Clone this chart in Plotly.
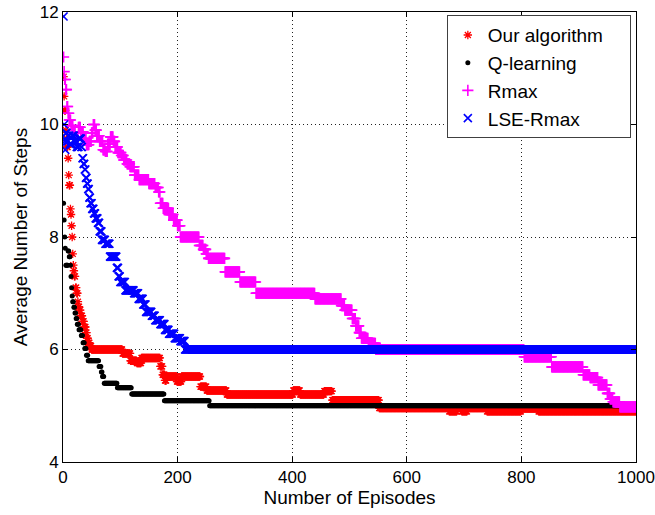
import numpy as np
import plotly.graph_objects as go

N_EPISODES = 1000

# Step data: episode where a level starts, and its value
ours_start = [1, 2, 3, 5, 6, 7, 9, 10, 11, 13, 14, 15, 16, 17, 18, 19, 20, 22, 24, 26, 27, 29, 31, 34, 37, 40, 42, 44, 47, 50,
              104, 118, 129, 137, 170, 174, 178, 181, 199, 207, 240, 251, 286, 402, 414, 456, 470, 552, 674, 688, 696, 706, 740, 800, 830]
ours_val = [10.85, 10.5, 10.25, 9.9, 9.75, 9.6, 9.4, 9.1, 8.92, 8.5, 8.4, 8.2, 8.0, 7.7, 7.5, 7.4, 7.3, 7.1, 7.0, 6.85, 6.76, 6.7, 6.6, 6.5, 6.4, 6.3, 6.2, 6.12, 6.06, 6.0,
            5.93, 5.8, 5.76, 5.85, 5.7, 5.55, 5.45, 5.52, 5.43, 5.52, 5.34, 5.27, 5.2, 5.27, 5.2, 5.26, 5.1, 4.96, 4.9, 4.96, 4.9, 4.96, 4.9, 4.95, 4.9]

q_start = [1, 2, 3, 4, 5, 9, 11, 13, 14, 15, 16, 17, 19, 21, 23, 25, 28, 32, 35, 38, 41, 44, 63, 67, 69, 72, 95, 120, 177, 256]
q_val = [8.6, 8.3, 8.0, 7.8, 7.5, 7.75, 7.65, 7.5, 7.3, 7.1, 6.95, 6.85, 6.75, 6.65, 6.55, 6.45, 6.35, 6.25, 6.12, 6.02, 5.9, 5.8, 5.7, 5.6, 5.52, 5.4, 5.32, 5.21, 5.09, 5.0]

rmax_start = [1, 2, 3, 5, 7, 9, 11, 14, 18, 22, 27, 31, 36, 41, 46, 50, 53, 56, 59, 64, 70, 74, 78, 83, 88, 91, 96, 102, 106, 112,
              117, 125, 133, 150, 161, 167, 170, 175, 185, 193, 200, 205, 238, 245, 250, 254, 283, 309, 337, 440, 486, 492, 505, 511,
              517, 521, 533, 546, 805, 853, 908, 920, 934, 950, 955, 960, 972]
rmax_val = [11.2, 10.94, 10.8, 10.62, 10.32, 10.2, 10.08, 9.98, 9.85, 9.75, 9.95, 9.87, 9.75, 9.64, 9.7, 9.85, 10.0, 9.9, 9.8, 9.7, 9.55, 9.52, 9.65, 9.78, 9.7, 9.6, 9.5, 9.45, 9.37, 9.3,
            9.25, 9.1, 9.02, 8.95, 8.88, 8.8, 8.6, 8.51, 8.4, 8.3, 8.2, 8.0, 7.85, 7.78, 7.7, 7.62, 7.38, 7.2, 7.0, 6.9, 6.78, 6.7, 6.55, 6.42,
            6.3, 6.2, 6.11, 6.0, 5.87, 5.69, 5.55, 5.5, 5.37, 5.22, 5.12, 5.07, 4.98]

lse_start = [1, 2, 3, 4, 5, 7, 9, 12, 16, 20, 24, 28, 32, 34, 36, 38, 40, 42, 44, 46, 48, 51, 54, 57, 61, 64, 68, 74, 82, 94,
             97, 100, 109, 124, 132, 140, 145, 155, 161, 170, 178, 185, 195, 205, 213]
lse_val = [11.92, 10.0, 9.7, 9.55, 9.85, 9.7, 9.8, 9.65, 9.8, 9.7, 9.6, 9.75, 9.6, 9.4, 9.3, 9.2, 9.05, 8.95, 8.85, 8.7, 8.6, 8.5, 8.42, 8.33, 8.25, 8.1, 7.95, 7.88, 7.65, 7.45,
           7.3, 7.2, 7.05, 7.0, 6.9, 6.8, 6.67, 6.6, 6.52, 6.45, 6.35, 6.28, 6.2, 6.15, 6.0]

names = ["Our algorithm", "Q-learning", "Rmax", "LSE-Rmax"]
x_ticks = [0, 200, 400, 600, 800, 1000]
y_ticks = [4, 6, 8, 10, 12]


def expand(starts, vals, n=N_EPISODES):
    ends = starts[1:] + [n + 1]
    counts = [e - s for s, e in zip(starts, ends)]
    return np.repeat(vals, counts)


episodes = np.arange(1, N_EPISODES + 1)

styles = [
    dict(symbol="asterisk-open", size=7, color="#ff0000", line=dict(color="#ff0000", width=1.3)),
    dict(symbol="circle", size=5, color="#000000", line=dict(width=0)),
    dict(symbol="cross-thin-open", size=8, color="#ff00ff", line=dict(color="#ff00ff", width=1.6)),
    dict(symbol="x-thin-open", size=8, color="#0000ff", line=dict(color="#0000ff", width=1.6)),
]
series = [(ours_start, ours_val), (q_start, q_val), (rmax_start, rmax_val), (lse_start, lse_val)]

fig = go.Figure()
for name, (st, vl), mk in zip(names, series, styles):
    fig.add_trace(go.Scatter(x=episodes, y=expand(st, vl), mode="markers", name=name + "\u00a0" * 4, marker=mk))

font = "Liberation Sans, Arial, Helvetica, sans-serif"
axis_common = dict(showline=True, linecolor="#000000", linewidth=1, mirror="ticks", ticks="inside", ticklen=5,
                   tickcolor="#000000", showgrid=True, gridcolor="#222222", griddash="1px,3px", gridwidth=1,
                   zeroline=False, tickfont=dict(size=17, color="#000000", family=font))
fig.update_xaxes(range=[0, 1000], tickvals=x_ticks, title=dict(text="Number of Episodes", font=dict(size=19), standoff=3),
                 **axis_common)
fig.update_yaxes(range=[4, 12], tickvals=y_ticks, title=dict(text="Average Number of Steps", font=dict(size=19), standoff=7),
                 **axis_common)

fig.update_layout(
    width=655, height=515,
    margin=dict(l=63, r=19, t=12, b=53, autoexpand=False),
    paper_bgcolor="#ffffff", plot_bgcolor="#ffffff",
    font=dict(family=font, size=17, color="#000000"),
    legend=dict(x=0.991, y=0.993, xanchor="right", yanchor="top", bgcolor="#ffffff",
                bordercolor="#404040", borderwidth=1, font=dict(size=19), itemsizing="trace",
                tracegroupgap=0, itemwidth=30),
    showlegend=True,
)

fig.write_html("out.html", post_script="document.body.style.margin='0px';",
               config={"displayModeBar": False})
